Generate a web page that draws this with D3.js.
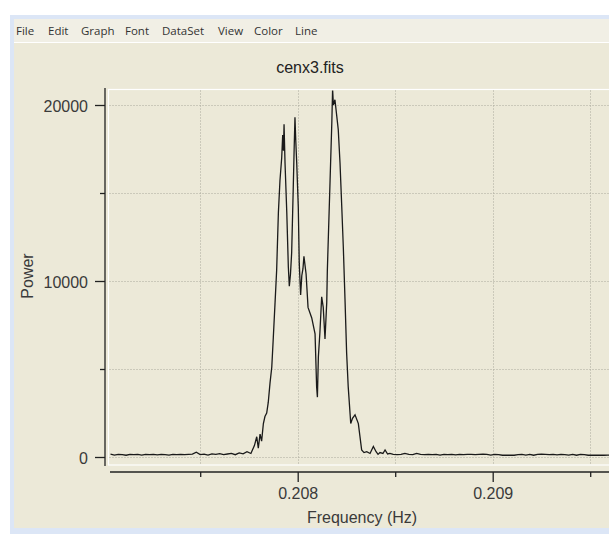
<!DOCTYPE html>
<html><head><meta charset="utf-8">
<script src="https://cdn.jsdelivr.net/npm/d3@7"></script>
<style>html,body{margin:0;padding:0;background:#fff;overflow:hidden}</style>
</head><body><svg id="c" width="609" height="541"></svg>
<script>
// ---------- data ----------
const menuItems = ["File", "Edit", "Graph", "Font", "DataSet", "View", "Color", "Line"];
const titleText = "cenx3.fits";
const xLabel = "Frequency (Hz)";
const yLabel = "Power";
const xMajorTicks = [0.208, 0.209];
const xMinorTicks = [0.2075, 0.2085, 0.2095];
const yMajorTicks = [0, 10000, 20000];
const yMinorTicks = [5000, 15000];

const freqLeft = [0.20704, 0.20706, 0.20708, 0.20710, 0.20712, 0.20714, 0.20716, 0.20718, 0.20720, 0.20722,
  0.20724, 0.20726, 0.20728, 0.20730, 0.20732, 0.20734, 0.20736, 0.20738, 0.20740, 0.20742,
  0.20744, 0.20746, 0.20748, 0.20750, 0.20752, 0.20754, 0.20756, 0.20758, 0.20760, 0.20762,
  0.20764, 0.20766, 0.20768, 0.20770, 0.20772, 0.20774, 0.20776];
const powerLeft = [160, 110, 150, 140, 100, 150, 130, 150, 110, 150,
  140, 150, 120, 150, 140, 110, 150, 140, 150, 130,
  150, 160, 270, 140, 160, 110, 180, 150, 190, 140,
  170, 200, 130, 230, 180, 300, 200];

const freqPeak = [0.207778, 0.207790, 0.207798, 0.207807, 0.207815, 0.207824, 0.207832, 0.207841, 0.207849, 0.207858,
  0.207867, 0.207875, 0.207884, 0.207892, 0.207901, 0.207909, 0.207918, 0.207923, 0.207927, 0.207930,
  0.207935, 0.207944, 0.207952, 0.207957, 0.207963, 0.207969, 0.207977, 0.207982, 0.207986, 0.207990,
  0.207995, 0.208003, 0.208008, 0.208015, 0.208021, 0.208027, 0.208032, 0.208043, 0.208053, 0.208072,
  0.208089, 0.208097, 0.208101, 0.208106, 0.208114, 0.208123, 0.208131, 0.208140, 0.208149, 0.208152,
  0.208166, 0.208175, 0.208179, 0.208183, 0.208191, 0.208208, 0.208217, 0.208226, 0.208234, 0.208243,
  0.208251, 0.208259, 0.208272, 0.208281, 0.208294, 0.208311, 0.208328, 0.208340, 0.208354, 0.208371,
  0.208388, 0.208402, 0.208412, 0.208422, 0.208437, 0.208448, 0.208461, 0.208473];
const powerPeak = [650, 1150, 500, 1300, 900, 1900, 2300, 2500, 3100, 4200,
  5100, 6800, 8800, 10600, 13900, 15700, 17000, 18300, 17400, 18900,
  16700, 13900, 10800, 9700, 10400, 11600, 15200, 17600, 19300, 18000,
  16700, 14200, 11000, 9200, 10300, 10700, 11400, 10400, 8500, 7900,
  7000, 4000, 3400, 5700, 7100, 9100, 8500, 6700, 8800, 10600,
  15700, 19000, 20900, 20000, 20300, 18600, 16700, 14200, 11900, 8800,
  5900, 4000, 1900, 2200, 2400, 1900, 400, 250, 300, 200,
  600, 300, 150, 250, 200, 400, 170, 200];

const freqRight = [0.20849, 0.20851, 0.20853, 0.20855, 0.20857, 0.20859, 0.20861, 0.20863, 0.20865, 0.20867,
  0.20869, 0.20871, 0.20873, 0.20875, 0.20877, 0.20879, 0.20881, 0.20883, 0.20885, 0.20887,
  0.20889, 0.20891, 0.20893, 0.20895, 0.20897, 0.20899, 0.20901, 0.20903, 0.20905, 0.20907,
  0.20909, 0.20911, 0.20913, 0.20915, 0.20917, 0.20919, 0.20921, 0.20923, 0.20925, 0.20927,
  0.20929, 0.20931, 0.20933, 0.20935, 0.20937, 0.20939, 0.20941, 0.20943, 0.20945, 0.20947,
  0.20949, 0.20951, 0.20953, 0.20955, 0.20957, 0.20959, 0.20961];
const powerRight = [150, 130, 150, 200, 150, 140, 210, 150, 140, 150,
  140, 150, 110, 150, 140, 150, 120, 150, 140, 150,
  150, 130, 150, 160, 150, 110, 150, 140, 100, 100,
  100, 100, 130, 150, 110, 150, 100, 150, 160, 150,
  130, 150, 120, 150, 140, 110, 150, 100, 150, 140,
  100, 100, 100, 100, 100, 110, 100];

// ---------- layout ----------
const W = 609, H = 541;
const plot = { left: 108.5, top: 89.5, right: 618, bottom: 465 };
const yAxisX = 105, xAxisY = 472;
const bg = "#ECE9D8", ink = "#3a3a3a";
const menuX = [16, 48, 81, 125, 162, 218, 254, 295];

const svg = d3.select("#c");

// window frame
svg.append("rect").attr("x", 10).attr("y", 15).attr("width", 640).attr("height", 519).attr("fill", "#dce6f6");
svg.append("rect").attr("x", 14).attr("y", 19).attr("width", 640).attr("height", 509).attr("fill", bg);
svg.append("rect").attr("x", 14).attr("y", 19).attr("width", 640).attr("height", 23).attr("fill", "#F1EFE5");
svg.append("line").attr("x1", 14).attr("x2", W).attr("y1", 42.5).attr("y2", 42.5).attr("stroke", "#fff").attr("stroke-width", 1.2);

// menu
svg.append("g").selectAll("text").data(menuItems).join("text")
  .attr("x", (d, i) => menuX[i]).attr("y", 35)
  .attr("font-family", "'Open Sans', 'DejaVu Sans', sans-serif").attr("font-size", 11.5)
  .attr("fill", "#333").text(d => d);

// title
svg.append("text").attr("x", 310).attr("y", 73).attr("text-anchor", "middle")
  .attr("font-family", "'Liberation Sans', Arial, sans-serif").attr("font-size", 16).attr("fill", "#222")
  .text(titleText);

// scales
const x = d3.scaleLinear().domain([0.20704, 0.2096]).range([110.5, 609.7]);
const y = d3.scaleLinear().domain([0, 20000]).range([457, 105]);

// plot frame (white highlight)
svg.append("rect").attr("x", plot.left).attr("y", plot.top)
  .attr("width", plot.right - plot.left).attr("height", plot.bottom - plot.top)
  .attr("fill", "none").attr("stroke", "#fff").attr("stroke-width", 1.2);

// grid
const grid = svg.append("g").attr("stroke", "#aaa89c").attr("stroke-dasharray", "1,2").attr("stroke-width", 1);
grid.selectAll("line.v").data(xMajorTicks.concat(xMinorTicks)).join("line").attr("class", "v")
  .attr("x1", d => Math.round(x(d)) + 0.5).attr("x2", d => Math.round(x(d)) + 0.5)
  .attr("y1", plot.top + 1).attr("y2", plot.bottom - 1);
grid.selectAll("line.h").data(yMajorTicks.concat(yMinorTicks)).join("line").attr("class", "h")
  .attr("y1", d => Math.round(y(d)) + 0.5).attr("y2", d => Math.round(y(d)) + 0.5)
  .attr("x1", plot.left + 1).attr("x2", W);

// data line
svg.append("clipPath").attr("id", "clip").append("rect")
  .attr("x", plot.left + 1).attr("y", plot.top + 1).attr("width", W).attr("height", plot.bottom - plot.top - 2);
const freq = freqLeft.concat(freqPeak, freqRight);
const power = powerLeft.concat(powerPeak, powerRight);
const pts = freq.map((f, i) => [f, power[i]]);
svg.append("path").datum(pts).attr("clip-path", "url(#clip)")
  .attr("fill", "none").attr("stroke", "#1a1a1a").attr("stroke-width", 1.3).attr("stroke-linejoin", "miter")
  .attr("d", d3.line().x(d => x(d[0])).y(d => y(d[1])));

// axes
const fontAxis = "'Liberation Sans', Arial, sans-serif";
function styleAxis(g) {
  g.select(".domain").remove();
  g.selectAll("line").attr("stroke", "#222").attr("stroke-width", 1.3);
  g.selectAll("text").attr("font-family", fontAxis).attr("font-size", 16).attr("fill", ink);
}
// y axis
svg.append("g").attr("transform", `translate(${yAxisX},0)`)
  .call(d3.axisLeft(y).tickValues(yMajorTicks).tickSize(10).tickPadding(7).tickFormat(d3.format("d")))
  .call(styleAxis).call(g => g.selectAll("text").attr("dy", "0.4em"));
svg.append("g").attr("transform", `translate(${yAxisX},0)`)
  .call(d3.axisLeft(y).tickValues(yMinorTicks).tickSize(5).tickFormat(""))
  .call(styleAxis);
svg.append("line").attr("x1", yAxisX).attr("x2", yAxisX).attr("y1", 88).attr("y2", 466)
  .attr("stroke", "#222").attr("stroke-width", 1.3);

// x axis
svg.append("g").attr("transform", `translate(0,${xAxisY})`)
  .call(d3.axisBottom(x).tickValues(xMajorTicks).tickSize(10).tickPadding(6).tickFormat(d3.format(".3f")))
  .call(styleAxis);
svg.append("g").attr("transform", `translate(0,${xAxisY})`)
  .call(d3.axisBottom(x).tickValues(xMinorTicks).tickSize(5).tickFormat(""))
  .call(styleAxis);
svg.append("line").attr("x1", 110).attr("x2", W).attr("y1", xAxisY).attr("y2", xAxisY)
  .attr("stroke", "#222").attr("stroke-width", 1.3);

// axis titles
svg.append("text").attr("x", 362).attr("y", 523).attr("text-anchor", "middle")
  .attr("font-family", fontAxis).attr("font-size", 16).attr("fill", ink).text(xLabel);
svg.append("text").attr("transform", "translate(33,276) rotate(-90)").attr("text-anchor", "middle")
  .attr("font-family", fontAxis).attr("font-size", 16).attr("fill", ink).text(yLabel);
</script>
</body></html>
